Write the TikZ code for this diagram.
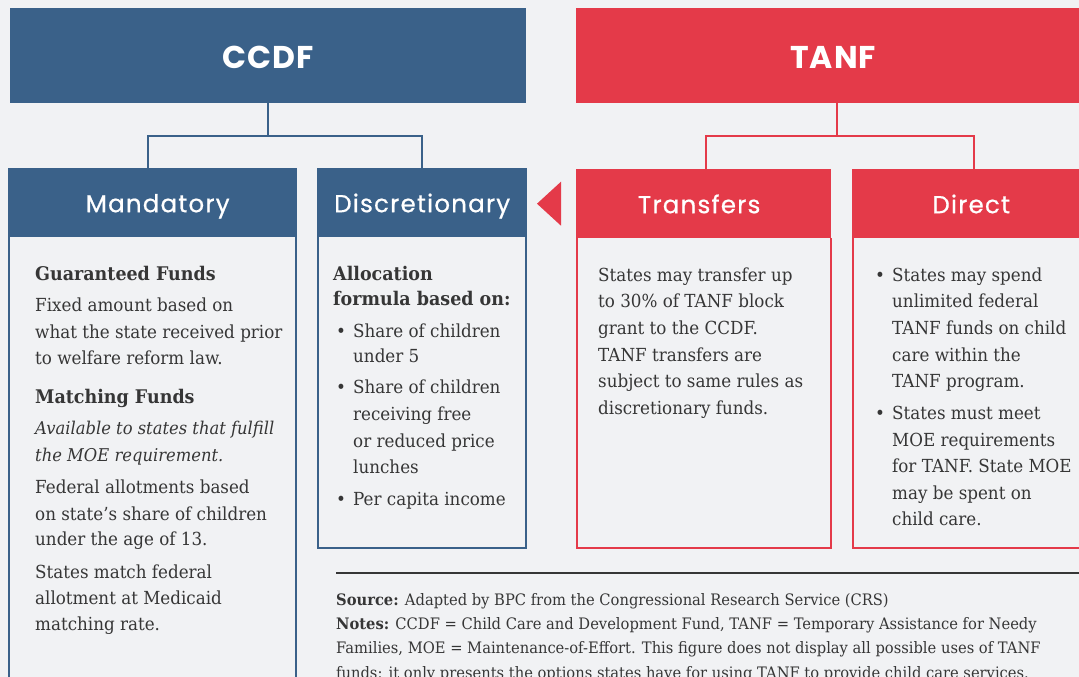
\documentclass[tikz,border=0pt]{standalone}
\usepackage{fontspec}
\setmainfont{DejaVu Serif}[FakeStretch=0.93]
\newfontfamily\hd{Poppins}[LetterSpace=5, FakeBold=0.7]
\newfontfamily\hdb{Poppins}[LetterSpace=3]
\newfontfamily\srcfont{DejaVu Serif}[FakeStretch=0.93]
\definecolor{bgc}{HTML}{F1F2F4}
\definecolor{bpc}{HTML}{3A6189}
\definecolor{rdc}{HTML}{E43A49}
\definecolor{txc}{HTML}{363636}
\tikzset{
  topbox/.style={anchor=north west, inner sep=0, minimum height=95, text height=21, text depth=0, text=white, font=\hdb\bfseries\fontsize{31.5}{31}\selectfont},
  subbox/.style={anchor=north west, inner sep=0, minimum height=69, text height=17, text depth=0, text=white, font=\hd\fontsize{24.5}{24}\selectfont},
  txt/.style={anchor=base west, inner sep=0, text=txc, font=\fontsize{18}{20}\selectfont},
  hdtxt/.style={anchor=base west, inner sep=0, text=txc, font=\bfseries\fontsize{18.8}{20}\selectfont},
  srctxt/.style={anchor=base west, inner sep=0, text=txc, font=\srcfont\fontsize{15.8}{18}\selectfont},
  link/.style={line width=2pt},
}
\begin{document}
\begin{tikzpicture}[x=1pt,y=-1pt]
\useasboundingbox (0,0) rectangle (1079,677);
\clip (0,0) rectangle (1079,677);
\fill[bgc] (0,0) rectangle (1079,677);

% top boxes
\node[topbox, fill=bpc, minimum width=516] (ccdf) at (10,8) {\raisebox{-2pt}{CCDF}};
\node[topbox, fill=rdc, minimum width=516] (tanf) at (576,8) {\hspace*{-2pt}\raisebox{-2pt}{TANF}};

% sub headers
\node[subbox, fill=bpc, minimum width=289] (mand) at (8,168) {\hspace*{10pt}\raisebox{-1pt}{Mandatory}};
\node[subbox, fill=bpc, minimum width=210] (disc) at (317,168) {\raisebox{-1pt}{Discretionary}};
\node[subbox, fill=rdc, minimum width=255] (trans) at (576,169) {\hspace*{-9pt}\raisebox{-1pt}{Transfers}};
\node[subbox, fill=rdc, minimum width=233] (direct) at (852,169) {\hspace*{5pt}\raisebox{-1pt}{Direct}};

% body outlines
\draw[bpc, line width=2pt] (mand.south west) ++(1,0) -- ++(0,460);
\draw[bpc, line width=2pt] (mand.south east) ++(-1,0) -- ++(0,460);
\draw[bpc, line width=2pt] (disc.south west) ++(1,0) |- (526,548) -- (disc.south east -| 526,0);
\draw[rdc, line width=2pt] (trans.south west) ++(1,0) |- (831,548) -- (trans.south east -| 831,0);
\draw[rdc, line width=2pt] (direct.south west) ++(1,0) |- (1090,548);

% connectors
\draw[bpc, link] (ccdf.south) -- ++(0,33) coordinate (cj) -| ([xshift=-4.5]mand.north);
\draw[bpc, link] (cj) -| (disc.north);
\draw[rdc, link] (tanf.south -| 837,0) coordinate (tj0) -- (837,136) coordinate (tj) -| (trans.north -| 706,0);
\draw[rdc, link] (tj) -| (974,169);

% arrow triangle
\fill[rdc] ([xshift=-15,yshift=-22]trans.west) -- ([xshift=-15,yshift=22]trans.west) -- ([xshift=-39,yshift=0]trans.west) -- cycle;

% Mandatory text
\node[hdtxt] (m1) at (35,280) {Guaranteed Funds};
\foreach \y/\t [count=\i] in {311/{Fixed amount based on}, 338/{what the state received prior}, 364/{to welfare reform law.}}
  \node[txt] (ma\i) at (35,\y) {\t};
\node[hdtxt] (m2) at (35,403) {Matching Funds};
\foreach \y/\t [count=\i] in {434/{Available to states that fulfill}, 461/{the MOE requirement.}}
  \node[txt, font=\itshape\fontsize{17.6}{20}\selectfont] (mi\i) at (35,\y) {\t};
\foreach \y/\t [count=\i] in {493/{Federal allotments based}, 520/{on state’s share of children}, 545/{under the age of 13.}, 578/{States match federal}, 604/{allotment at Medicaid}, 630/{matching rate.}}
  \node[txt] (mb\i) at (35,\y) {\t};

% Discretionary text
\node[hdtxt] (d1) at (333,280) {Allocation};
\node[hdtxt] (d2) at (333,305) {formula based on:};
\foreach \y in {337,393,505}
  \node[txt] (db\y) at (336,\y) {•};
\foreach \y/\t [count=\i] in {337/{Share of children}, 362/{under 5}, 393/{Share of children}, 420/{receiving free}, 447/{or reduced price}, 473/{lunches}, 505/{Per capita income}}
  \node[txt] (dt\i) at (353,\y) {\t};

% Transfers text
\foreach \y/\t [count=\i] in {281/{States may transfer up}, 307/{to 30\% of TANF block}, 334/{grant to the CCDF.}, 361/{TANF transfers are}, 387/{subject to same rules as}, 414/{discretionary funds.}}
  \node[txt] (tt\i) at (598,\y) {\t};

% Direct text
\foreach \y in {281,419}
  \node[txt] (xb\y) at (875,\y) {•};
\foreach \y/\t [count=\i] in {281/{States may spend}, 307/{unlimited federal}, 334/{TANF funds on child}, 361/{care within the}, 387/{TANF program.}, 419/{States must meet}, 446/{MOE requirements}, 472/{for TANF. State MOE}, 499/{may be spent on}, 525/{child care.}}
  \node[txt] (xt\i) at (892,\y) {\t};

% Source
\coordinate (sl) at (336,573);
\coordinate (sr) at (1079,573);
\draw[txc, line width=1.5pt] (sl) -- (sr);
\node[srctxt] (s1) at (336,605) {\textbf{Source:} Adapted by BPC from the Congressional Research Service (CRS)};
\node[srctxt] (s2) at (336,629) {\textbf{Notes:} CCDF = Child Care and Development Fund, TANF = Temporary Assistance for Needy};
\node[srctxt] (s3) at (336,653) {Families, MOE = Maintenance-of-Effort. This figure does not display all possible uses of TANF};
\node[srctxt] (s4) at (336,678) {funds: it only presents the options states have for using TANF to provide child care services.};
\end{tikzpicture}
\end{document}
